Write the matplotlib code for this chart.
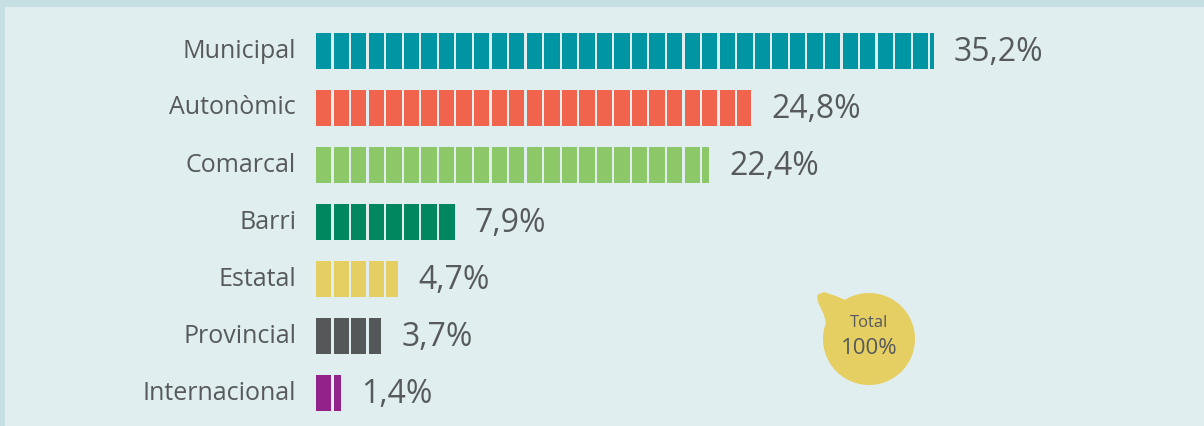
import matplotlib
matplotlib.use("Agg")
import matplotlib.pyplot as plt
from matplotlib.patches import Rectangle, Circle, Polygon
from matplotlib.transforms import Affine2D

# data
categories = ["Municipal", "Autonòmic", "Comarcal", "Barri", "Estatal", "Provincial", "Internacional"]
values = [35.2, 24.8, 22.4, 7.9, 4.7, 3.7, 1.4]
value_labels = ["35,2%", "24,8%", "22,4%", "7,9%", "4,7%", "3,7%", "1,4%"]
colors = ["#0095a3", "#f0644d", "#8cc868", "#008760", "#e6cf62", "#545859", "#93238a"]
total_label = ["Total", "100%"]

W, H = 1204, 426
BG = "#e0eeef"
EDGE = "#c6dfe3"
TXT = "#565a5c"
unit = 17.55      # px per percent
x0 = 316          # px where bars start
row0, row_step = 51, 57
gap = 2.2 / unit
bar_h = 36 / row_step

plt.rcParams['font.family'] = ['Open Sans', 'DejaVu Sans']

fig = plt.figure(figsize=(W / 100, H / 100), dpi=100)
fig.patch.set_facecolor(BG)
ax = fig.add_axes([0, 0, 1, 1])
ax.set_facecolor(BG)
ax.set_xlim(-x0 / unit, (W - x0) / unit)
ax.set_ylim((H - row0) / row_step, -row0 / row_step)
ax.axis('off')

for i, (cat, v, lab, c) in enumerate(zip(categories, values, value_labels, colors)):
    n = int(v)
    for k in range(n):
        ax.add_patch(Rectangle((k, i - bar_h / 2), 1 - gap, bar_h, color=c, lw=0))
    if v - n > 0:
        ax.add_patch(Rectangle((n, i - bar_h / 2), v - n, bar_h, color=c, lw=0))
    ax.text(-20 / unit, i, cat, ha='right', va='center', fontsize=18, color=TXT)
    ax.text(v + 1.15, i + 0.02, lab, ha='left', va='center', fontsize=23, color=TXT)

# pixel transform (y from top) for the decorations
pix = Affine2D().scale(1, -1).translate(0, H).scale(1 / 100) + fig.dpi_scale_trans

# frame strips
fig.patches.append(Rectangle((0, 0), W, 7, transform=pix, color=EDGE, lw=0))
fig.patches.append(Rectangle((0, 0), 5, H, transform=pix, color=EDGE, lw=0))

# speech bubble
yel = "#e6cf62"
cx, cy, r = 869, 339, 46
fig.patches.append(Circle((cx, cy), r, transform=pix, color=yel, lw=0))
fig.patches.append(Polygon([(817, 295), (824, 292), (836, 296), (850, 302), (850, 325), (828, 332),
                            (824, 315), (818, 302)],
                           closed=True, transform=pix, color=yel, lw=0))
fig.text(cx / W, 1 - 323 / H, total_label[0], ha='center', va='center', fontsize=12, color=TXT)
fig.text(cx / W, 1 - 348 / H, total_label[1], ha='center', va='center', fontsize=16, color=TXT)

fig.savefig("out.png", dpi=100, facecolor=BG)
